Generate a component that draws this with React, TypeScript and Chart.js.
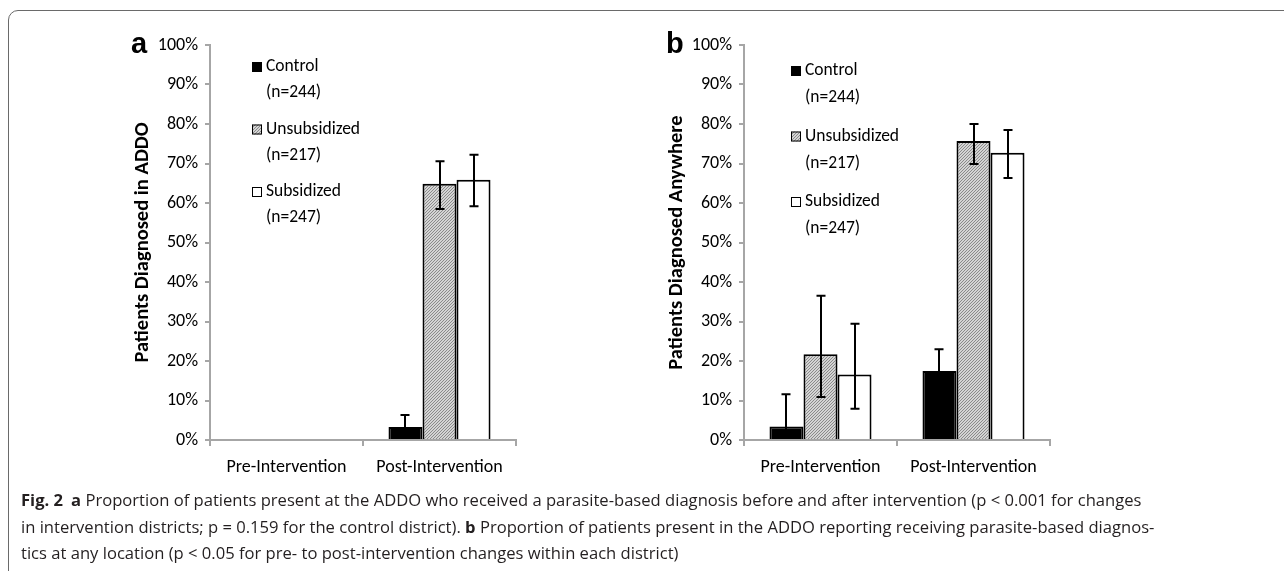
import React, { useEffect, useRef } from "react";
import { Chart, registerables } from "chart.js";
Chart.register(...registerables);

const categories = ["Pre-Intervention", "Post-Intervention"];
const seriesNames = ["Control", "Unsubsidized", "Subsidized"];
const seriesN = ["(n=244)", "(n=217)", "(n=247)"];
const yTicks = [0, 10, 20, 30, 40, 50, 60, 70, 80, 90, 100];

// Panel a: diagnosed in ADDO
const aControl = [0, 3.3];
const aUnsub = [0, 64.9];
const aSubs = [0, 65.9];
const aControlLow = [null, 1.0];
const aControlHigh = [null, 6.3];
const aUnsubLow = [null, 58.5];
const aUnsubHigh = [null, 70.6];
const aSubsLow = [null, 59.2];
const aSubsHigh = [null, 72.2];

// Panel b: diagnosed anywhere
const bControl = [3.4, 17.5];
const bUnsub = [21.7, 75.7];
const bSubs = [16.6, 72.7];
const bControlLow = [0.5, 12.0];
const bControlHigh = [11.6, 23.0];
const bUnsubLow = [10.9, 69.9];
const bUnsubHigh = [36.5, 80.0];
const bSubsLow = [7.9, 66.3];
const bSubsHigh = [29.4, 78.5];

const FONT = "Carlito, Calibri, Lato, 'Open Sans', sans-serif";
const AXIS = "#a6a6a6";

function makeHatch(): CanvasPattern | string {
  const c = document.createElement("canvas");
  c.width = 3;
  c.height = 3;
  const ctx = c.getContext("2d");
  if (!ctx) return "#c0c0c0";
  ctx.fillStyle = "#d4d4d4";
  ctx.fillRect(0, 0, 3, 3);
  ctx.fillStyle = "#8a8a8a";
  ctx.fillRect(2, 0, 1, 1);
  ctx.fillRect(1, 1, 1, 1);
  ctx.fillRect(0, 2, 1, 1);
  return ctx.createPattern(c, "repeat") || "#c0c0c0";
}

type Err = { low: (number | null)[]; high: (number | null)[] };

function errorPlugin(errors: Err[]) {
  return {
    id: "errorBars",
    afterDatasetsDraw(chart: any) {
      const { ctx } = chart;
      const y = chart.scales.y;
      errors.forEach((err, di) => {
        const meta = chart.getDatasetMeta(di);
        meta.data.forEach((bar: any, i: number) => {
          const lo = err.low[i];
          const hi = err.high[i];
          if (lo == null || hi == null) return;
          const x = Math.round(bar.x);
          const yl = y.getPixelForValue(lo);
          const yh = y.getPixelForValue(hi);
          ctx.save();
          ctx.strokeStyle = "#000";
          ctx.lineWidth = 2;
          ctx.beginPath();
          ctx.moveTo(x, yl);
          ctx.lineTo(x, yh);
          ctx.moveTo(x - 4.5, yh);
          ctx.lineTo(x + 4.5, yh);
          ctx.moveTo(x - 4.5, yl);
          ctx.lineTo(x + 4.5, yl);
          ctx.stroke();
          ctx.restore();
        });
      });
    },
  };
}

function legendPlugin(fills: any[], dx: number, dy: number, step: number, line2: number) {
  return {
    id: "customLegend",
    afterDraw(chart: any) {
      const { ctx, chartArea } = chart;
      ctx.save();
      seriesNames.forEach((name, i) => {
        const bx = chartArea.left + dx;
        const cy = chartArea.top + dy + i * step;
        ctx.fillStyle = fills[i];
        ctx.fillRect(bx, cy - 5, 10, 10);
        ctx.strokeStyle = "#000";
        ctx.lineWidth = 1;
        ctx.strokeRect(bx + 0.5, cy - 4.5, 9, 9);
        ctx.fillStyle = "#000";
        ctx.font = `17.5px ${FONT}`;
        ctx.textBaseline = "middle";
        ctx.textAlign = "left";
        ctx.fillText(name, bx + 14, cy);
        ctx.fillText(seriesN[i], bx + 14, cy + line2);
      });
      ctx.restore();
    },
  };
}

function buildConfig(
  values: number[][],
  errors: Err[],
  title: string,
  hatch: any,
  legend: { dx: number; dy: number; step: number; line2: number }
): any {
  const fills = ["#000000", hatch, "#ffffff"];
  return {
    type: "bar",
    data: {
      labels: categories,
      datasets: seriesNames.map((name, i) => ({
        label: name,
        data: values[i],
        backgroundColor: fills[i],
        borderColor: "#000000",
        borderWidth: 2,
        borderSkipped: "bottom",
        categoryPercentage: 0.667,
        barPercentage: 1.0,
      })),
    },
    options: {
      responsive: false,
      animation: false,
      devicePixelRatio: 1,
      layout: { padding: { top: 20, right: 24, bottom: 0, left: 0 } },
      plugins: { legend: { display: false }, tooltip: { enabled: false } },
      scales: {
        x: {
          offset: true,
          grid: {
            offset: true,
            drawOnChartArea: false,
            drawTicks: true,
            tickLength: 6,
            color: AXIS,
            lineWidth: 2,
          },
          border: { color: AXIS, width: 2 },
          ticks: { color: "#000", font: { family: FONT, size: 18 }, padding: 11 },
          afterFit(scale: any) {
            scale.height = 60;
          },
        },
        y: {
          min: 0,
          max: 100,
          afterBuildTicks(scale: any) {
            scale.ticks = yTicks.map((v) => ({ value: v }));
          },
          grid: {
            drawOnChartArea: false,
            drawTicks: true,
            tickLength: 5,
            color: AXIS,
            lineWidth: 2,
          },
          border: { color: AXIS, width: 2 },
          ticks: {
            color: "#000",
            font: { family: FONT, size: 18 },
            padding: 7,
            callback: (v: any) => `${v}%`,
          },
          title: {
            display: true,
            text: title,
            color: "#000",
            font: { family: FONT, size: 20.5, weight: "bold" },
            padding: { top: 31, bottom: 0 },
          },
          afterFit(scale: any) {
            scale.width = 110;
          },
        },
      },
    },
    plugins: [errorPlugin(errors), legendPlugin(fills, legend.dx, legend.dy, legend.step, legend.line2)],
  };
}

function Panel(props: {
  values: number[][];
  errors: Err[];
  title: string;
  left: number;
  legend: { dx: number; dy: number; step: number; line2: number };
}) {
  const ref = useRef<HTMLCanvasElement | null>(null);
  useEffect(() => {
    if (!ref.current) return;
    const hatch = makeHatch();
    const chart = new Chart(ref.current, buildConfig(props.values, props.errors, props.title, hatch, props.legend));
    return () => chart.destroy();
  }, []);
  return (
    <canvas
      ref={ref}
      width={440}
      height={475}
      style={{ position: "absolute", left: props.left, top: 25, width: 440, height: 475 }}
    />
  );
}

export default function App() {
  const capStyle: React.CSSProperties = {
    whiteSpace: "nowrap",
    height: 26.5,
    lineHeight: "26.5px",
  };
  const letterStyle: React.CSSProperties = {
    position: "absolute",
    top: 27,
    fontFamily: "'Liberation Sans', Arial, sans-serif",
    fontWeight: "bold",
    fontSize: 29,
    lineHeight: "32px",
  };
  return (
    <div
      style={{
        position: "absolute",
        left: 0,
        top: 0,
        width: 1284,
        height: 571,
        overflow: "hidden",
        background: "#fff",
      }}
    >
      <div
        style={{
          position: "absolute",
          left: 8,
          top: 10,
          width: 1300,
          height: 620,
          border: "1.5px solid #6a6a6a",
          borderTopLeftRadius: 10,
          boxSizing: "border-box",
        }}
      />
      <Panel
        values={[aControl, aUnsub, aSubs]}
        errors={[
          { low: aControlLow, high: aControlHigh },
          { low: aUnsubLow, high: aUnsubHigh },
          { low: aSubsLow, high: aSubsHigh },
        ]}
        title="Patients Diagnosed in ADDO"
        left={100}
        legend={{ dx: 42, dy: 22, step: 62.5, line2: 26 }}
      />
      <Panel
        values={[bControl, bUnsub, bSubs]}
        errors={[
          { low: bControlLow, high: bControlHigh },
          { low: bUnsubLow, high: bUnsubHigh },
          { low: bSubsLow, high: bSubsHigh },
        ]}
        title="Patients Diagnosed Anywhere"
        left={634}
        legend={{ dx: 47, dy: 26, step: 65.5, line2: 27 }}
      />
      <div style={{ ...letterStyle, left: 131 }}>a</div>
      <div style={{ ...letterStyle, left: 666 }}>b</div>
      <div
        style={{
          position: "absolute",
          left: 21,
          top: 487,
          fontFamily: "'Open Sans', Lato, sans-serif",
          fontSize: 16.6,
          color: "#231f20",
        }}
      >
        <div style={capStyle}>
          <b>Fig. 2</b>
          <b style={{ marginLeft: 8 }}>a</b> Proportion of patients present at the ADDO who received a parasite-based
          diagnosis before and after intervention (p &lt; 0.001 for changes
        </div>
        <div style={capStyle}>
          in intervention districts; p = 0.159 for the control district). <b>b</b> Proportion of patients present in the
          ADDO reporting receiving parasite-based diagnos-
        </div>
        <div style={capStyle}>tics at any location (p &lt; 0.05 for pre- to post-intervention changes within each district)</div>
      </div>
    </div>
  );
}
